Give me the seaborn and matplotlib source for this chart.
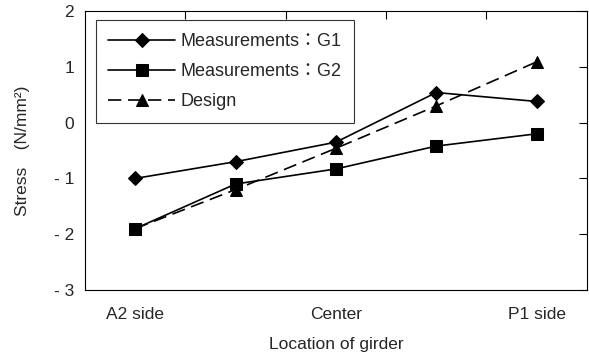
import matplotlib
matplotlib.use("Agg")
import matplotlib.pyplot as plt
import seaborn as sns
import pandas as pd

locations = ["A2 side", "", "Center", "", "P1 side"]
positions = [0.5, 1.5, 2.5, 3.5, 4.5]
g1 = [-1.0, -0.7, -0.35, 0.54, 0.38]
g2 = [-1.9, -1.1, -0.83, -0.42, -0.2]
design = [-1.9, -1.2, -0.46, 0.3, 1.09]
y_ticks = [2, 1, 0, -1, -2, -3]
y_labels = ["2", "1", "0", "- 1", "- 2", "- 3"]

sns.set_style("white")
plt.rcParams['font.family'] = ['Liberation Sans', 'Noto Sans CJK JP', 'DejaVu Sans']
plt.rcParams['font.size'] = 12

fig = plt.figure(figsize=(5.89, 3.58), dpi=100)
ax = fig.add_axes([0.1443, 0.19, 0.852, 0.779])

series = [
    ("Measurements\uff1aG1", g1, "D", "-", 7.5),
    ("Measurements\uff1aG2", g2, "s", "-", 8),
    ("Design", design, "^", "--", 8.5),
]
for name, vals, mk, ls, ms in series:
    df = pd.DataFrame({"x": positions, "y": vals})
    sns.lineplot(data=df, x="x", y="y", ax=ax, color="black", marker=mk,
                 linestyle=ls, markersize=ms, markeredgecolor="black",
                 linewidth=1.2, label=name)
for l in ax.lines:
    if l.get_label() == "Design":
        l.set_dashes((8, 4))

ax.set_xlim(0, 5)
ax.set_ylim(-3, 2)
ax.set_yticks(y_ticks)
ax.set_yticklabels(y_labels, fontsize=12.5)
ax.set_xticks([1, 2, 3, 4])
ax.set_xticklabels([])
ax.set_xticks([0.5, 2.5, 4.5], minor=True)
ax.set_xticklabels(["A2 side", "Center", "P1 side"], minor=True, fontsize=12.5)
ax.tick_params(axis="x", which="minor", length=0, pad=12)
ax.tick_params(axis="both", which="major", direction="in", length=6,
               top=True, right=True, color="black", width=0.8)
ax.tick_params(axis="y", which="major", pad=8)
for s in ax.spines.values():
    s.set_color("black")
    s.set_linewidth(0.8)

ax.set_xlabel("Location of girder", fontsize=12.5, labelpad=11)
ax.set_ylabel("Stress\u3000(N/mm\u00b2)", fontsize=12.5, labelpad=17)

leg = ax.legend(loc="upper left", bbox_to_anchor=(0.0215, 0.967), frameon=True,
                fancybox=False, edgecolor="black", fontsize=13,
                handlelength=3.7, handletextpad=0.3, borderpad=0.7,
                labelspacing=0.72, borderaxespad=0)
leg.get_frame().set_linewidth(0.8)

fig.savefig("out.png", dpi=100)
